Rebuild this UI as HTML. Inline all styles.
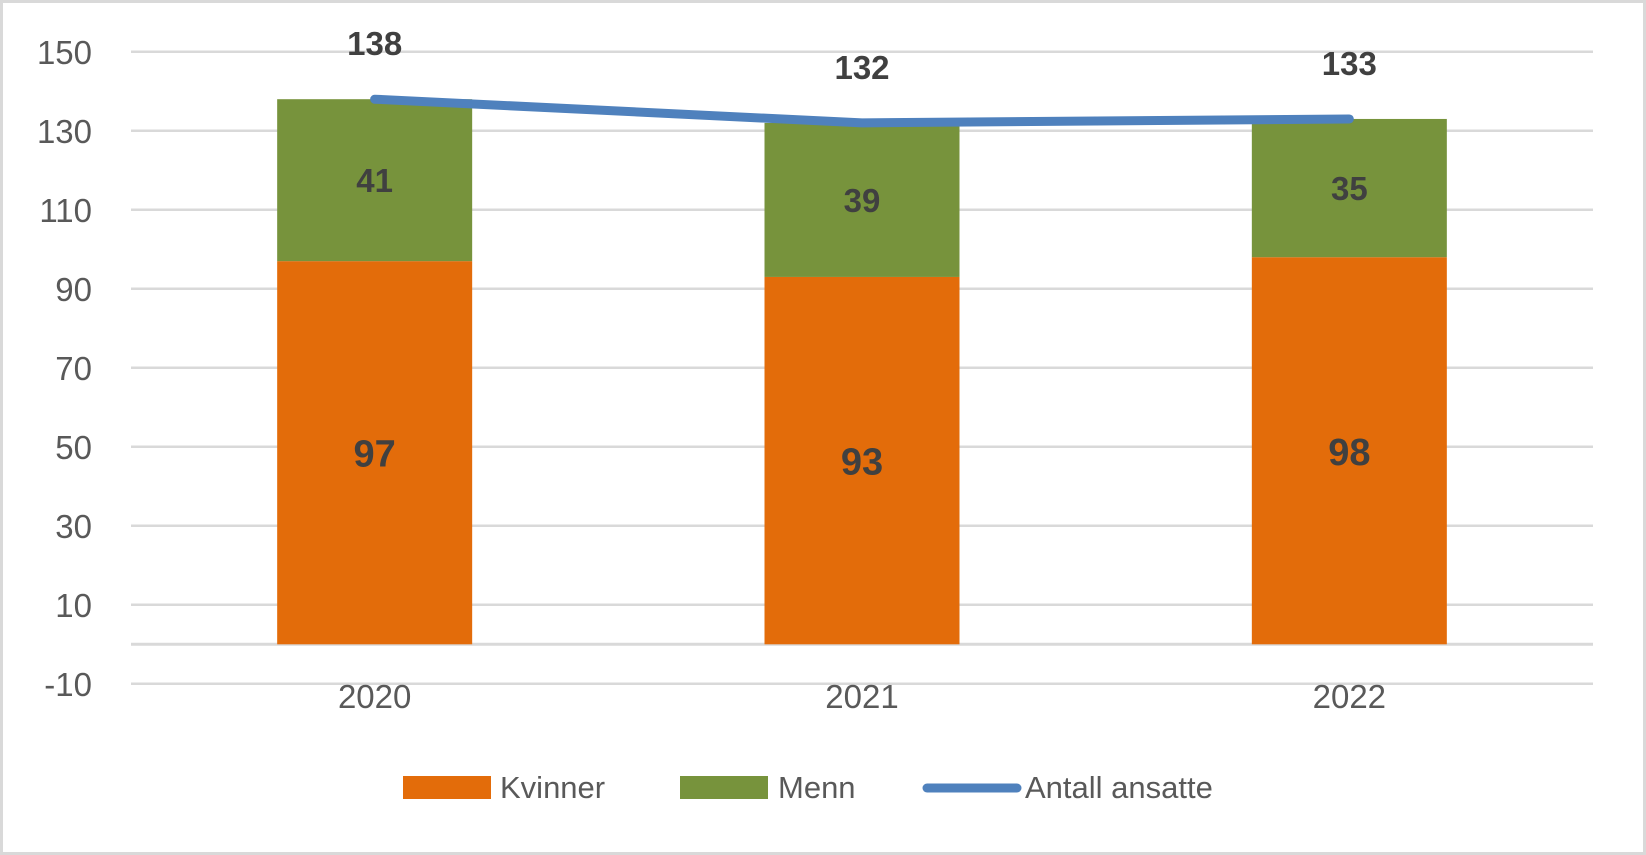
<!DOCTYPE html>
<html><head><meta charset="utf-8"><style>
html,body{margin:0;padding:0;background:#fff;}
svg{display:block;font-family:"Liberation Sans",sans-serif;}
</style></head><body>
<svg id="chart" width="1646" height="855" viewBox="0 0 1646 855" xmlns="http://www.w3.org/2000/svg">
<rect x="1.5" y="1.5" width="1643" height="852" fill="#fff" stroke="#d9d9d9" stroke-width="3"/>
<g id="grid"></g><g id="bars"></g><g id="line"></g><g id="labels"></g>
<g id="legend">
<rect x="403" y="776" width="88" height="23" fill="#E36C0A"/>
<text x="500" y="798" font-size="31" fill="#595959">Kvinner</text>
<rect x="680" y="776" width="88" height="23" fill="#77933C"/>
<text x="778" y="798" font-size="31" fill="#595959">Menn</text>
<line x1="927" y1="788" x2="1017" y2="788" stroke="#4F81BD" stroke-width="9" stroke-linecap="round"/>
<text x="1025" y="798" font-size="31" fill="#595959">Antall ansatte</text>
</g>
</svg>
<script>
const categories = ["2020","2021","2022"];
const kvinner = [97,93,98];
const menn = [41,39,35];
const antall = [138,132,133];
const yTicks = [-10,10,30,50,70,90,110,130,150];

const NS="http://www.w3.org/2000/svg";
const x0=131,x1=1593,zeroY=644.3,pxPer=3.95;
const bandW=(x1-x0)/categories.length, barW=195;
const y=v=>zeroY-v*pxPer;
const cx=i=>x0+bandW*(i+0.5);
function mk(tag,attrs,parent){const e=document.createElementNS(NS,tag);for(const k in attrs)e.setAttribute(k,attrs[k]);document.getElementById(parent).appendChild(e);return e;}

yTicks.forEach(t=>{
  const l=mk('line',{x1:x0,x2:x1,y1:y(t),y2:y(t),stroke:'#d9d9d9','stroke-width':2.5},'grid');
  
  
  const tx=mk('text',{x:92,y:y(t)+12,'text-anchor':'end','font-size':33,fill:'#595959'},'grid');
  tx.textContent=t;
  
  
});
const ax=mk('line',{x1:x0,x2:x1,y1:y(0),y2:y(0),stroke:'#d9d9d9','stroke-width':3},'grid');



categories.forEach((c,i)=>{
  const bx=cx(i)-barW/2;
  const k=mk('rect',{x:bx,y:y(kvinner[i]),width:barW,height:y(0)-y(kvinner[i]),fill:'#E36C0A'},'bars');
  
  
  const top=kvinner[i]+menn[i];
  const m=mk('rect',{x:bx,y:y(top),width:barW,height:y(kvinner[i])-y(top),fill:'#77933C'},'bars');
  
  
  const kl=mk('text',{x:cx(i),y:y(kvinner[i]/2)+14,'text-anchor':'middle','font-size':38,'font-weight':'bold',fill:'#404040'},'labels');
  kl.textContent=kvinner[i];
  
  
  const ml=mk('text',{x:cx(i),y:y(kvinner[i]+menn[i]/2)+12,'text-anchor':'middle','font-size':33,'font-weight':'bold',fill:'#404040'},'labels');
  ml.textContent=menn[i];
  
  
  const al=mk('text',{x:cx(i),y:y(antall[i])-44,'text-anchor':'middle','font-size':33,'font-weight':'bold',fill:'#404040'},'labels');
  al.textContent=antall[i];
  
  
  const xl=mk('text',{x:cx(i),y:708,'text-anchor':'middle','font-size':33,fill:'#595959'},'labels');
  xl.textContent=c;
  
  
});
const pts=antall.map((v,i)=>cx(i)+','+y(v)).join(' ');
const pl=mk('polyline',{points:pts,fill:'none',stroke:'#4F81BD','stroke-width':9,'stroke-linecap':'round','stroke-linejoin':'round'},'line');


</script>
</body></html>
